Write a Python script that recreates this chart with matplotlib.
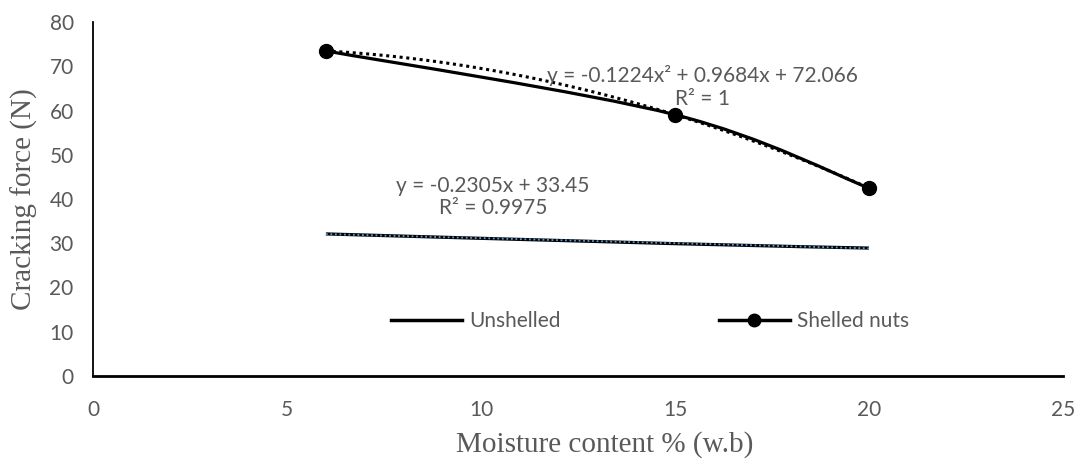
import numpy as np
import matplotlib
matplotlib.use("Agg")
from matplotlib import pyplot as plt
from matplotlib.path import Path
from matplotlib.patches import PathPatch
from matplotlib.lines import Line2D

# data
moisture = [6, 15, 20]
shelled = [73.47, 59.05, 42.47]
unshelled = [32.1, 29.9, 28.9]

quad_label = "y = -0.1224x\u00b2 + 0.9684x + 72.066\nR\u00b2 = 1"
lin_label = "y = -0.2305x + 33.45\nR\u00b2 = 0.9975"

gray = "#595959"
plt.rcParams['font.family'] = ['Lato', 'DejaVu Sans']


def smooth_path(xs, ys):
    # excel-like smoothed line (catmull-rom as cubic bezier)
    p = np.column_stack([xs, ys]).astype(float)
    pts = [p[0]]
    codes = [Path.MOVETO]
    n = len(p)
    for i in range(n - 1):
        prev = p[i - 1] if i > 0 else p[i]
        nxt = p[i + 2] if i + 2 < n else p[i + 1]
        c1 = p[i] + (p[i + 1] - prev) / 6
        c2 = p[i + 1] - (nxt - p[i]) / 6
        pts += [c1, c2, p[i + 1]]
        codes += [Path.CURVE4] * 3
    return Path(pts, codes)


fig = plt.figure(figsize=(10.83, 4.59), dpi=100)
ax = fig.add_axes([0.086, 0.181, 0.8955, 0.771])

# unshelled series + linear trend
ax.add_patch(PathPatch(smooth_path(moisture, unshelled), fill=False, color='black', lw=2.3, zorder=3))
k = np.polyfit(moisture, unshelled, 1)
xt = np.linspace(moisture[0], moisture[-1], 100)
ax.plot(xt, np.polyval(k, xt), ls=(0, (1, 1.5)), color='#5B9BD5', lw=1.3, zorder=4)

# shelled series + quadratic trend
q = np.polyfit(moisture, shelled, 2)
ax.plot(xt, np.polyval(q, xt), ls=(0, (1, 1.2)), color='black', lw=2.2, zorder=3)
ax.add_patch(PathPatch(smooth_path(moisture, shelled), fill=False, color='black', lw=2.3, zorder=4))
ax.plot(moisture, shelled, 'o', color='black', ms=10, zorder=5)

ax.text(15.7, 65.3, quad_label, ha='center', va='center', color=gray, fontsize=15, linespacing=1.15)
ax.text(10.3, 40.5, lin_label, ha='center', va='center', color=gray, fontsize=15, linespacing=1.1)

handles = [Line2D([], [], color='black', lw=2.5),
           Line2D([], [], color='black', lw=2.5, marker='o', ms=9)]
ax.legend(handles, ['Unshelled', 'Shelled nuts'], ncol=2, frameon=False,
          loc='center', bbox_to_anchor=(0.574, 0.155), fontsize=15,
          handlelength=3.4, handletextpad=0.35, columnspacing=7.6, labelcolor=gray)

ax.set_xlim(0, 25)
ax.set_ylim(0, 80)
ax.set_xticks(range(0, 26, 5))
ax.set_yticks(range(0, 81, 10))
ax.tick_params(length=0, labelsize=15, labelcolor=gray)
ax.tick_params(axis='x', pad=17)
ax.tick_params(axis='y', pad=14)
ax.spines['top'].set_visible(False)
ax.spines['right'].set_visible(False)
ax.spines['left'].set_linewidth(1.3)
ax.spines['bottom'].set_linewidth(2)

ax.set_xlabel('Moisture content % (w.b)', family='Liberation Serif', fontsize=21, color=gray, labelpad=2)
ax.xaxis.set_label_coords(0.527, -0.155)
ax.set_ylabel('Cracking force (N)', family='Liberation Serif', fontsize=21, color=gray, labelpad=8)

plt.savefig('out.png', dpi=100)
